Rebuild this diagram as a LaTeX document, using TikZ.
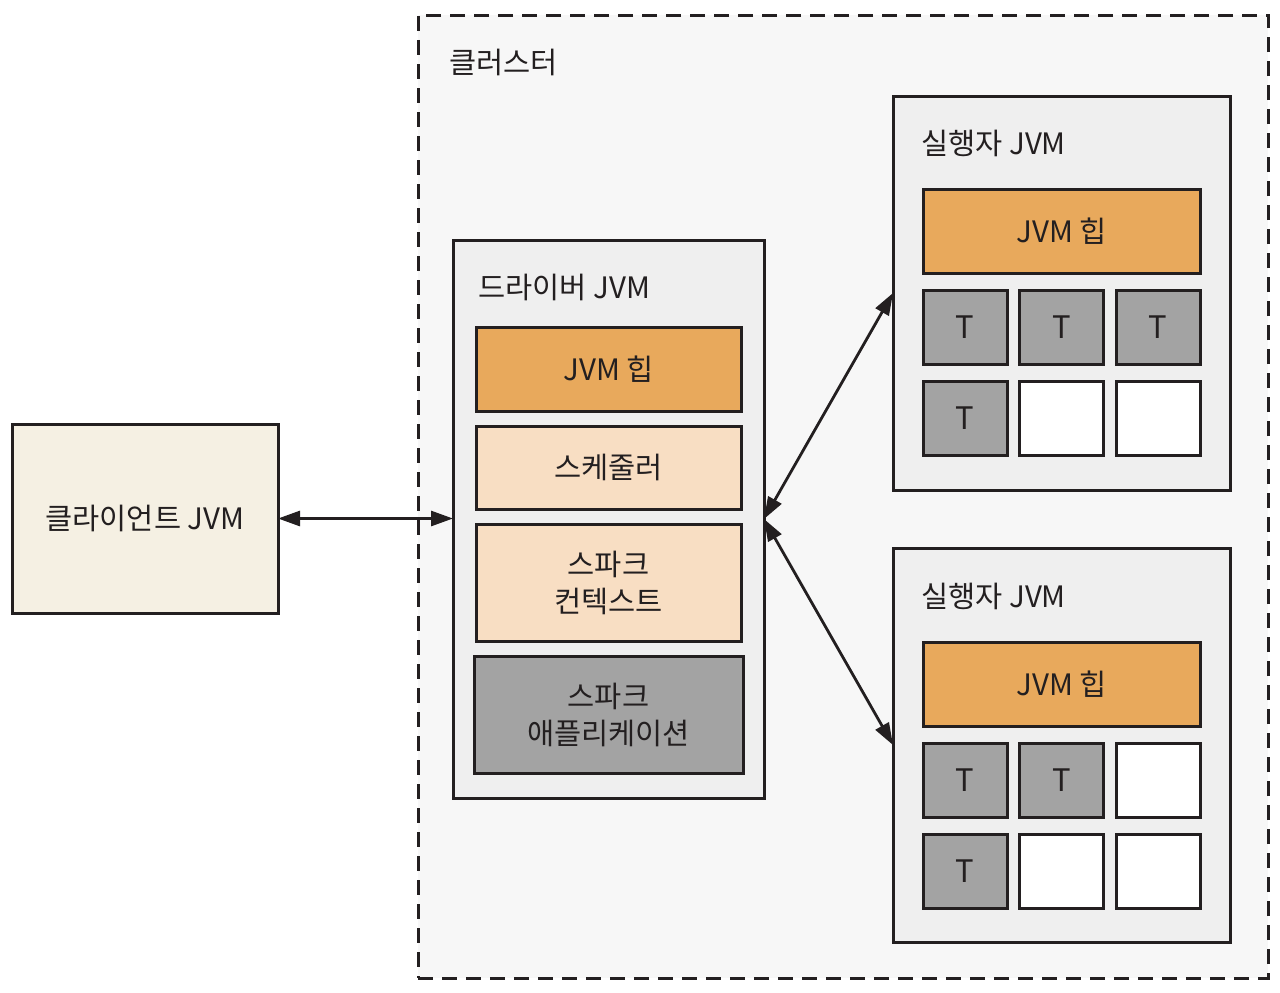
\documentclass[tikz,border=0pt]{standalone}
\usepackage{fontspec}
\setmainfont{Noto Sans CJK KR}
\usetikzlibrary{arrows.meta}
\definecolor{ink}{HTML}{231F20}
\definecolor{clubg}{HTML}{F7F7F7}
\definecolor{jvmbg}{HTML}{EFEFEF}
\definecolor{clibg}{HTML}{F5F0E3}
\definecolor{heap}{HTML}{E8A95C}
\definecolor{peach}{HTML}{F8DEC3}
\definecolor{tgray}{HTML}{A3A3A3}
\tikzset{
  box/.style={draw=ink, line width=3pt, rectangle, inner sep=0pt, outer sep=0pt, anchor=north west, text=ink, align=center, font=\fontsize{29.5}{37}\selectfont},
  lbl/.style={anchor=west, inner sep=0pt, text=ink, font=\fontsize{29.5}{37}\selectfont},
  tbox/.style={box, minimum width=84pt, minimum height=74pt, fill=tgray, font=\fontsize{31}{37}\selectfont},
  ebox/.style={box, minimum width=84pt, minimum height=74pt, fill=white},
  link/.style={draw=ink, line width=2.8pt, {Triangle[length=22pt,width=15pt]}-{Triangle[length=22pt,width=15pt]}}
}
\begin{document}
\begin{tikzpicture}[x=1pt,y=-1pt]
\useasboundingbox (0,0) rectangle (1280,993);
% cluster
\node[box, fill=clubg, dash pattern=on 15pt off 9pt, minimum width=850pt, minimum height=963pt] (clu) at (418,15) {};
\node[lbl] (clulbl) at (449,62) {클러스터};
% client
\node[box, fill=clibg, minimum width=266pt, minimum height=189pt] (cli) at (12,424) {클라이언트 JVM};
% driver
\node[box, fill=jvmbg, minimum width=311pt, minimum height=558pt] (drv) at (453,240) {};
\node[lbl] (drvlbl) at (478,287) {드라이버 JVM};
\node[box, fill=heap, minimum width=265pt, minimum height=84pt] (dheap) at (476,327) {JVM 힙};
\node[box, fill=peach, minimum width=265pt, minimum height=83pt] (sch) at (476,426) {스케줄러};
\node[box, fill=peach, minimum width=265pt, minimum height=117pt] (ctx) at (476,524) {스파크\\컨텍스트};
\node[box, fill=tgray, minimum width=269pt, minimum height=117pt] (app) at (474,656) {스파크\\애플리케이션};
% executor 1
\node[box, fill=jvmbg, minimum width=337pt, minimum height=394pt] (ex1) at (893,96) {};
\node[lbl] (ex1lbl) at (921,143) {실행자 JVM};
\node[box, fill=heap, minimum width=277pt, minimum height=84pt] (h1) at (923,189) {JVM 힙};
\node[tbox] (t11) at (923,290) {T};
\node[tbox] (t12) at (1019.5,290) {T};
\node[tbox] (t13) at (1116,290) {T};
\node[tbox] (t14) at (923,381) {T};
\node[ebox] (e15) at (1019.5,381) {};
\node[ebox] (e16) at (1116,381) {};
% executor 2
\node[box, fill=jvmbg, minimum width=337pt, minimum height=394pt] (ex2) at (893,548) {};
\node[lbl] (ex2lbl) at (921,596) {실행자 JVM};
\node[box, fill=heap, minimum width=277pt, minimum height=84pt] (h2) at (923,642) {JVM 힙};
\node[tbox] (t21) at (923,743) {T};
\node[tbox] (t22) at (1019.5,743) {T};
\node[ebox] (e23) at (1116,743) {};
\node[tbox] (t24) at (923,834) {T};
\node[ebox] (e25) at (1019.5,834) {};
\node[ebox] (e26) at (1116,834) {};
% connectors
\draw[link] (cli.east) -- (cli.east -| drv.west);
\draw[link] (drv.east) -- (ex1.west);
\draw[link] (drv.east) -- (ex2.west);
\end{tikzpicture}
\end{document}
